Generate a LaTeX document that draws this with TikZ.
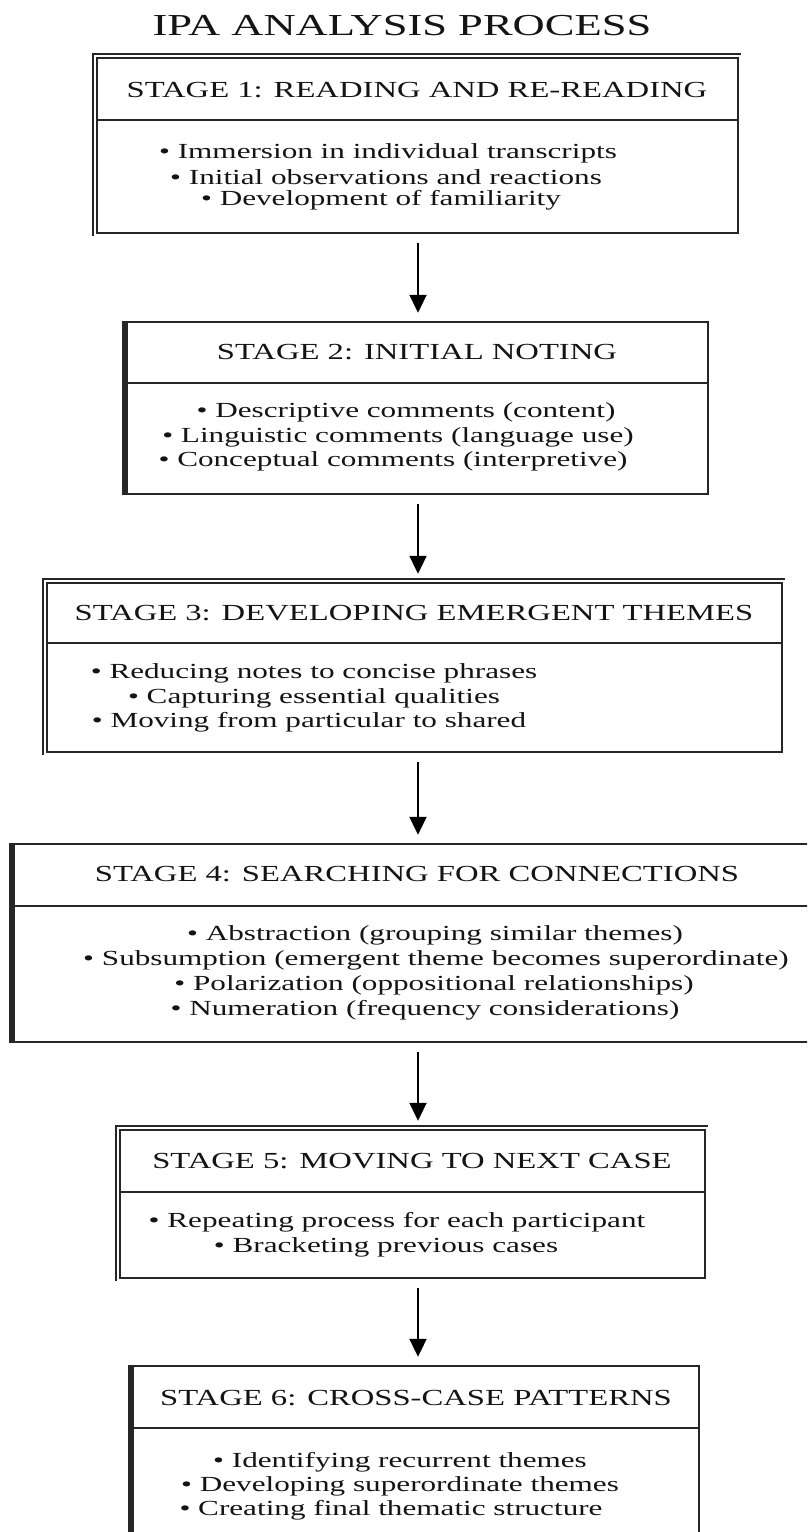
\documentclass[tikz,border=0pt]{standalone}
\usepackage{fontspec}
\setmainfont{Liberation Serif}
\usetikzlibrary{arrows.meta}
\newcommand{\hs}[1]{\scalebox{1.45}[1]{#1}}
\newcommand{\hhead}[1]{\scalebox{1.42}[1]{#1}}
\newcommand{\htitle}[1]{\scalebox{1.46}[1]{#1}}
\definecolor{ink}{HTML}{141414}
\definecolor{edge}{HTML}{262626}
\tikzset{
  stagebox/.style={draw=edge, line width=2.4pt, rectangle, inner sep=0pt},
  boxline/.style={draw=edge, line width=2.4pt},
  thickleft/.style={draw=edge, line width=5pt},
  outerline/.style={draw=edge, line width=1.5pt},
  headtext/.style={inner sep=0pt, text=ink, font=\fontsize{23}{26}\selectfont},
  bodytext/.style={inner sep=0pt, text=ink, font=\fontsize{21.5}{24}\selectfont},
  titletext/.style={inner sep=0pt, text=ink, font=\fontsize{30.5}{34}\selectfont},
  flow/.style={draw=black, line width=2pt, -{Triangle[length=18pt,width=17pt]}, shorten <=9pt, shorten >=8pt}
}
\begin{document}
\begin{tikzpicture}[x=1pt,y=-1pt]
\useasboundingbox (0,0) rectangle (807,1532);
\clip (0,0) rectangle (807,1532);
\fill[white] (0,0) rectangle (807,1532);

\node[titletext] (title) at (402,26) {\htitle{IPA ANALYSIS PROCESS}};

% boxes
\node[stagebox, minimum width=641pt, minimum height=175pt] (b1) at (417.5,145.5) {};
\node[stagebox, minimum width=581pt, minimum height=172pt] (b2) at (417.5,408) {};
\node[stagebox, minimum width=735pt, minimum height=169pt] (b3) at (414.5,667.5) {};
\node[stagebox, minimum width=801pt, minimum height=198pt] (b4) at (414.5,943) {};
\node[stagebox, minimum width=585pt, minimum height=148pt] (b5) at (412.5,1204) {};
\node[stagebox, minimum width=566pt, minimum height=194pt] (b6) at (416,1463) {};

% dividers
\draw[boxline] (b1.west |- 0,120) -- (b1.east |- 0,120);
\draw[boxline] (b2.west |- 0,383) -- (b2.east |- 0,383);
\draw[boxline] (b3.west |- 0,643) -- (b3.east |- 0,643);
\draw[boxline] (b4.west |- 0,906) -- (b4.east |- 0,906);
\draw[boxline] (b5.west |- 0,1192) -- (b5.east |- 0,1192);
\draw[boxline] (b6.west |- 0,1428) -- (b6.east |- 0,1428);

% double outlines (boxes 1,3,5)
\foreach \b in {b1,b3,b5}{
  \draw[outerline] ([xshift=-3pt,yshift=-2pt]\b.south west) -- ([xshift=-3pt,yshift=3pt]\b.north west) -- ([xshift=2pt,yshift=3pt]\b.north east);
}
% thick left edges (boxes 2,4,6)
\foreach \b in {b2,b4,b6}{
  \draw[thickleft] ([xshift=-1pt]\b.south west) -- ([xshift=-1pt]\b.north west);
}

% headers
\node[headtext] (h1) at (417,90) {\hhead{STAGE 1: READING AND RE-READING}};
\node[headtext] (h2) at (417,352) {\hhead{STAGE 2: INITIAL NOTING}};
\node[headtext] (h3) at (414,613) {\hhead{STAGE 3: DEVELOPING EMERGENT THEMES}};
\node[headtext] (h4) at (417,874) {\hhead{STAGE 4: SEARCHING FOR CONNECTIONS}};
\node[headtext] (h5) at (412,1161) {\hhead{STAGE 5: MOVING TO NEXT CASE}};
\node[headtext] (h6) at (416,1398) {\hhead{STAGE 6: CROSS-CASE PATTERNS}};

% body lines
\node[bodytext] (t11) at (388,153) {\hs{• Immersion in individual transcripts}};
\node[bodytext] (t12) at (386,177) {\hs{• Initial observations and reactions}};
\node[bodytext] (t13) at (381,200) {\hs{• Development of familiarity}};

\node[bodytext] (t21) at (406,412) {\hs{• Descriptive comments (content)}};
\node[bodytext] (t22) at (398,437) {\hs{• Linguistic comments (language use)}};
\node[bodytext] (t23) at (393,461) {\hs{• Conceptual comments (interpretive)}};

\node[bodytext] (t31) at (314,673) {\hs{• Reducing notes to concise phrases}};
\node[bodytext] (t32) at (314,698) {\hs{• Capturing essential qualities}};
\node[bodytext] (t33) at (309,722) {\hs{• Moving from particular to shared}};

\node[bodytext] (t41) at (435,935) {\hs{• Abstraction (grouping similar themes)}};
\node[bodytext] (t42) at (436,960) {\hs{• Subsumption (emergent theme becomes superordinate)}};
\node[bodytext] (t43) at (434,985) {\hs{• Polarization (oppositional relationships)}};
\node[bodytext] (t44) at (425,1010) {\hs{• Numeration (frequency considerations)}};

\node[bodytext] (t51) at (397,1222) {\hs{• Repeating process for each participant}};
\node[bodytext] (t52) at (386,1247) {\hs{• Bracketing previous cases}};

\node[bodytext] (t61) at (400,1462) {\hs{• Identifying recurrent themes}};
\node[bodytext] (t62) at (400,1486) {\hs{• Developing superordinate themes}};
\node[bodytext] (t63) at (391,1510) {\hs{• Creating final thematic structure}};

% arrows
\coordinate (ax) at (418,0);
\draw[flow] (b1.south -| ax) -- (b2.north -| ax);
\draw[flow] (b2.south -| ax) -- (b3.north -| ax);
\draw[flow] (b3.south -| ax) -- (b4.north -| ax);
\draw[flow] (b4.south -| ax) -- (b5.north -| ax);
\draw[flow] (b5.south -| ax) -- (b6.north -| ax);
\end{tikzpicture}
\end{document}
